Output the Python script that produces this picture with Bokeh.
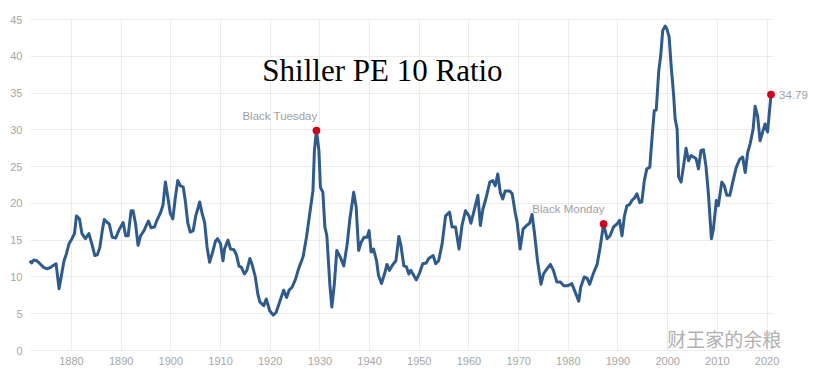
from bokeh.plotting import figure
from bokeh.models import ColumnDataSource, Range1d, FixedTicker, Label, LabelSet
from bokeh.core.properties import value
from bokeh.embed import file_html
from bokeh.resources import INLINE

# ---- data ----
years = [
    1871.6, 1872.0, 1872.4, 1873.0, 1873.5, 1874.4, 1875.1, 1875.8, 1876.4, 1876.9,
    1877.5, 1878.5, 1879.0, 1879.5, 1880.1, 1880.6, 1881.0, 1881.6, 1882.1, 1882.8,
    1883.5, 1884.1, 1884.7, 1885.2, 1885.7, 1886.2, 1886.6, 1887.2, 1887.6, 1888.2,
    1888.9, 1889.5, 1890.4, 1890.9, 1891.4, 1892.0, 1892.4, 1892.9, 1893.4, 1893.9,
    1894.6, 1895.2, 1895.5, 1896.0, 1896.7, 1897.2, 1897.9, 1898.4, 1898.9, 1899.4,
    1899.9, 1900.4, 1900.9, 1901.4, 1901.9, 1902.5, 1902.9, 1903.4, 1903.9, 1904.5,
    1905.0, 1905.4, 1905.8, 1906.3, 1906.8, 1907.3, 1907.8, 1908.3, 1909.0, 1909.4,
    1910.0, 1910.5, 1910.8, 1911.5, 1912.0, 1912.7, 1913.2, 1913.7, 1914.2, 1914.8,
    1915.3, 1915.9, 1916.3, 1917.0, 1917.5, 1917.9, 1918.7, 1919.2, 1919.9, 1920.6,
    1921.2, 1922.1, 1922.7, 1923.3, 1923.8, 1924.4, 1925.1, 1925.7, 1926.6, 1927.3,
    1927.95, 1928.6, 1928.9, 1929.3, 1929.8, 1930.1, 1930.6, 1931.0, 1931.4, 1932.0,
    1932.4, 1932.9, 1933.4, 1934.1, 1934.8, 1935.5, 1936.0, 1936.8, 1937.3, 1937.8,
    1938.3, 1938.9, 1939.5, 1939.9, 1940.3, 1940.8, 1941.4, 1941.8, 1942.4, 1943.0,
    1943.5, 1944.0, 1944.7, 1945.3, 1945.9, 1946.3, 1946.9, 1947.4, 1947.9, 1948.3,
    1948.9, 1949.4, 1950.1, 1950.7, 1951.4, 1951.9, 1952.8, 1953.3, 1953.9, 1954.6,
    1955.3, 1956.1, 1956.6, 1957.3, 1958.0, 1958.6, 1959.3, 1960.0, 1960.4, 1961.1,
    1961.8, 1962.3, 1962.8, 1963.4, 1964.2, 1964.8, 1965.3, 1965.8, 1966.3, 1966.8,
    1967.3, 1968.2, 1968.7, 1969.3, 1969.7, 1970.3, 1970.9, 1971.6, 1972.2, 1972.7,
    1973.2, 1973.8, 1974.5, 1975.0, 1975.7, 1976.4, 1977.0, 1977.7, 1978.4, 1979.1,
    1979.9, 1980.7, 1981.4, 1982.1, 1982.5, 1983.2, 1983.8, 1984.3, 1985.0, 1985.8,
    1986.4, 1987.1, 1987.8, 1988.4, 1989.1, 1989.8, 1990.3, 1990.8, 1991.3, 1991.8,
    1992.3, 1992.8, 1993.3, 1993.8, 1994.4, 1994.8, 1995.3, 1995.8, 1996.4, 1996.8,
    1997.3, 1997.7, 1998.2, 1998.6, 1999.0, 1999.5, 1999.85, 2000.3, 2000.7, 2001.2,
    2001.5, 2001.9, 2002.2, 2002.7, 2003.2, 2003.7, 2004.2, 2004.7, 2005.2, 2005.7,
    2006.2, 2006.7, 2007.2, 2007.7, 2008.2, 2008.8, 2009.2, 2009.8, 2010.2, 2010.9,
    2011.4, 2011.9, 2012.5, 2013.1, 2013.8, 2014.5, 2015.1, 2015.6, 2016.1, 2016.6,
    2017.2, 2017.6, 2018.1, 2018.6, 2019.2, 2019.6, 2020.1, 2020.8,
]
pe_ratio = [
    12.2, 11.9, 12.3, 12.2, 11.9, 11.3, 11.1, 11.3, 11.6, 11.8,
    8.4, 12.2, 13.2, 14.5, 15.2, 15.9, 18.3, 17.9, 15.9, 15.2,
    15.9, 14.5, 12.9, 13.0, 14.0, 16.3, 17.8, 17.4, 17.2, 15.4,
    15.3, 16.3, 17.4, 15.6, 15.6, 19.0, 19.0, 17.2, 14.3, 15.6,
    16.3, 17.2, 17.6, 16.7, 16.8, 17.7, 18.7, 19.7, 22.9, 20.8,
    18.6, 17.9, 20.8, 23.1, 22.4, 22.2, 20.4, 17.4, 16.1, 16.3,
    18.3, 19.2, 20.2, 18.6, 17.4, 14.0, 12.0, 13.1, 14.9, 15.2,
    14.5, 12.2, 13.8, 15.0, 13.8, 13.7, 13.0, 11.5, 11.3, 10.4,
    10.9, 12.5, 11.8, 10.0, 7.7, 6.6, 6.1, 7.0, 5.4, 4.8,
    5.2, 7.0, 8.2, 7.2, 8.2, 8.6, 9.7, 11.1, 12.7, 15.4,
    18.6, 21.7, 27.2, 29.9, 27.2, 22.2, 21.5, 16.8, 15.6, 9.0,
    5.9, 9.0, 13.6, 12.7, 11.5, 14.5, 17.7, 21.5, 19.5, 13.6,
    14.7, 15.4, 15.4, 16.3, 13.4, 13.8, 12.2, 10.2, 9.1, 10.4,
    11.7, 10.9, 11.7, 12.2, 15.5, 14.3, 11.5, 11.4, 10.4, 10.9,
    10.2, 9.6, 10.6, 11.8, 11.9, 12.5, 12.9, 11.8, 12.2, 14.5,
    18.3, 18.8, 16.8, 16.8, 13.8, 17.0, 19.0, 18.3, 17.3, 19.2,
    21.1, 17.0, 19.2, 20.6, 22.9, 23.1, 22.4, 24.0, 21.5, 20.6,
    21.7, 21.7, 21.3, 18.8, 17.4, 13.8, 16.5, 17.0, 17.3, 18.5,
    15.9, 12.2, 9.0, 10.4, 11.1, 11.7, 10.9, 9.3, 9.3, 8.8,
    8.8, 9.1, 7.9, 6.7, 8.6, 10.0, 9.8, 9.0, 10.4, 11.7,
    14.0, 17.2, 15.2, 15.6, 16.8, 17.2, 17.7, 15.6, 18.3, 19.7,
    19.8, 20.4, 20.7, 21.3, 20.1, 20.2, 23.1, 24.7, 24.9, 28.5,
    32.6, 32.7, 38.0, 40.1, 43.5, 44.1, 43.7, 42.6, 38.7, 34.7,
    31.5, 30.1, 23.6, 22.9, 25.1, 27.5, 25.8, 26.5, 26.3, 26.1,
    24.7, 27.2, 27.3, 25.1, 21.3, 15.2, 16.5, 20.4, 19.7, 22.9,
    22.4, 21.1, 21.1, 22.9, 24.9, 26.0, 26.3, 24.2, 26.9, 28.1,
    30.1, 33.2, 31.9, 28.5, 29.9, 30.8, 29.7, 34.79,
]
event_names = ["Black Tuesday", "Black Monday"]
event_years = [1929.3, 1987.1]

x_ticks = [1880, 1890, 1900, 1910, 1920, 1930, 1940, 1950, 1960, 1970, 1980, 1990, 2000, 2010, 2020]
y_ticks = [0, 5, 10, 15, 20, 25, 30, 35, 40, 45]

title_text = "Shiller PE 10 Ratio"
watermark_text = "财王家的余粮"

# ---- layout: data area (grid) and the larger frame that also holds the texts ----
X_START, X_END = 1871.75, 2021.3      # extent of the grid
Y_START, Y_END = 0, 45
W, H = 812, 381
GRID_L, GRID_R, GRID_T, GRID_B = 30, 773, 19, 350   # grid box in pixels
FRAME_B = 356                                        # frame bottom in pixels
px_x = (GRID_R - GRID_L) / (X_END - X_START)
px_y = (GRID_B - GRID_T) / (Y_END - Y_START)
xr = Range1d(X_START - GRID_L / px_x, X_END + (W - GRID_R) / px_x)
yr = Range1d(Y_START - (FRAME_B - GRID_B) / px_y, Y_END + GRID_T / px_y)

# ---- derived sources ----
src = ColumnDataSource(dict(x=years, y=pe_ratio))
ev_vals = [pe_ratio[years.index(yr_)] for yr_ in event_years]
ev_src = ColumnDataSource(dict(x=event_years, y=ev_vals, name=event_names))
last_src = ColumnDataSource(dict(x=[years[-1]], y=[pe_ratio[-1]], name=[f"{pe_ratio[-1]:.2f}"]))
ytick_src = ColumnDataSource(dict(x=[X_START] * len(y_ticks), y=y_ticks, t=[str(v) for v in y_ticks]))

p = figure(width=W, height=H, output_backend="svg", toolbar_location=None,
           x_range=xr, y_range=yr,
           min_border_left=0, min_border_right=0, min_border_top=0, min_border_bottom=H - FRAME_B)
p.outline_line_color = None
p.background_fill_color = "white"
p.border_fill_color = "white"

ax = p.xaxis[0]
ax.axis_line_color = None
ax.major_tick_line_color = None
ax.minor_tick_line_color = None
ax.major_tick_out = 0
ax.major_tick_in = 0
ax.major_label_text_color = "#a6a6a6"
ax.major_label_text_font = "Liberation Sans"
ax.major_label_text_font_size = "11px"
ax.major_label_standoff = 0
ax.ticker = FixedTicker(ticks=x_ticks)
p.yaxis.visible = False

p.xgrid[0].ticker = FixedTicker(ticks=x_ticks)
p.ygrid[0].ticker = FixedTicker(ticks=y_ticks)
p.xgrid[0].cross_bounds = (Y_START, Y_END)
p.ygrid[0].cross_bounds = (X_START, X_END)
p.xgrid.grid_line_color = "#ececec"
p.ygrid.grid_line_color = "#ececec"
p.xgrid.grid_line_width = 1
p.ygrid.grid_line_width = 1

# y tick labels
p.add_layout(LabelSet(x="x", y="y", text="t", source=ytick_src, text_align="right",
                      text_baseline="middle", x_offset=-8,
                      text_color="#a6a6a6", text_font=value("Liberation Sans"),
                      text_font_size=value("11px")))

p.line("x", "y", source=src, line_color="#2f5a8c", line_width=3, line_join="round")
p.scatter("x", "y", source=ev_src, size=7, color="#d0021b")
p.scatter("x", "y", source=last_src, size=7, color="#d0021b")

p.add_layout(LabelSet(x="x", y="y", text="name", source=ev_src, text_align="right",
                      text_baseline="middle", y_offset=15, x_offset=1,
                      text_color="#a0a0a0", text_font=value("Liberation Sans"),
                      text_font_size=value("11.5px")))
p.add_layout(LabelSet(x="x", y="y", text="name", source=last_src, text_align="left",
                      text_baseline="middle", x_offset=8,
                      text_color="#a0a0a0", text_font=value("Liberation Sans"),
                      text_font_size=value("11.5px")))

p.add_layout(Label(x=1942.6, y=38.1, text=title_text, text_align="center", text_baseline="alphabetic",
                   text_font="Liberation Serif", text_font_size="31px", text_color="black"))
p.add_layout(Label(x=1999.9, y=1.6, text=watermark_text, text_align="left", text_baseline="middle",
                   text_font="Noto Sans CJK SC", text_font_size="19px", text_color="#b0b0b0"))

open("out.html", "w").write(file_html(p, INLINE))
